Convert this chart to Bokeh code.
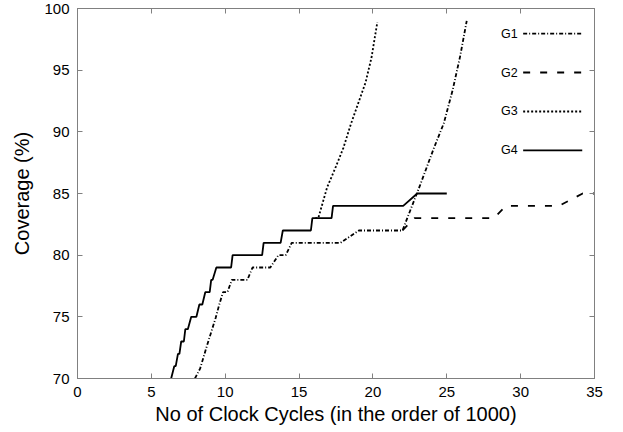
from bokeh.plotting import figure
from bokeh.models import LinearAxis, FixedTicker, Range1d
from bokeh.core.properties import value
from bokeh.embed import file_html
from bokeh.resources import INLINE

# ---- data ----
x_ticks = [0, 5, 10, 15, 20, 25, 30, 35]
y_ticks = [70, 75, 80, 85, 90, 95, 100]
series_names = ["G1", "G2", "G3", "G4"]

g1_x = [7.95, 8.3, 8.8, 9.35, 9.6, 9.85, 10.15, 10.45, 11.5, 11.85, 13.05, 13.6,
        14.1, 14.5, 17.8, 19.05, 22.0, 23.2, 24.1, 24.8, 25.4, 25.9, 26.35]
g1_y = [70, 70.8, 72.8, 74.9, 76, 77, 77, 78, 78, 79, 79, 80,
        80, 81, 81, 82, 82, 85.7, 88.6, 90.7, 93.4, 96.1, 99]

g2_x = [22.0, 22.8, 28.2, 29.0, 32.6, 34.2, 35.0]
g2_y = [82, 83, 83, 84, 84, 85, 85]

g3_x = [16.1, 16.3, 16.9, 17.5, 18.0, 18.5, 19.0, 19.5, 19.9, 20.3]
g3_y = [83, 83, 85.5, 87.2, 88.7, 90.6, 92.3, 94.0, 96.0, 98.9]

g4_x = [6.34, 6.55, 6.65, 6.8, 6.9, 7.02, 7.2, 7.3, 7.47, 7.7, 8.05, 8.25, 8.45,
        8.65, 8.95, 9.05, 9.15, 9.4, 10.4, 10.5, 12.5, 12.6, 13.75, 13.9, 15.8,
        15.9, 17.2, 17.3, 22.05, 23.0, 25.0]
g4_y = [70, 71, 71, 72, 72, 73, 73, 74, 74, 75, 75, 76, 76,
        77, 77, 78, 78, 79, 79, 80, 80, 81, 81, 82, 82,
        83, 83, 84, 84, 85, 85]

# ---- styling ----
FONT = "Liberation Sans"
AX = "#808080"
dashes = {"G1": "4 2 1 2", "G2": "7 10", "G3": "2 2", "G4": "solid"}
series = {"G1": (g1_x, g1_y), "G2": (g2_x, g2_y), "G3": (g3_x, g3_y), "G4": (g4_x, g4_y)}

p = figure(frame_width=517, frame_height=370,
           min_border_left=77, min_border_right=13, min_border_top=8, min_border_bottom=46,
           x_range=Range1d(0, 35), y_range=Range1d(70, 100),
           output_backend="svg", toolbar_location=None)
p.background_fill_color = "white"
p.border_fill_color = "white"
p.outline_line_color = AX
p.grid.grid_line_color = None

for ax in (p.xaxis[0], p.yaxis[0]):
    ax.major_tick_in = 5
    ax.major_tick_out = 0
    ax.minor_tick_in = 0
    ax.minor_tick_out = 0
    ax.axis_line_color = AX
    ax.major_tick_line_color = AX
    ax.major_label_text_font = FONT
    ax.major_label_text_font_size = "15px"
    ax.major_label_text_color = "black"
    ax.axis_label_text_font = FONT
    ax.axis_label_text_font_size = "20px"
    ax.axis_label_text_font_style = "normal"
    ax.axis_label_text_color = "black"

p.xaxis[0].ticker = FixedTicker(ticks=x_ticks)
p.yaxis[0].ticker = FixedTicker(ticks=y_ticks)
p.xaxis[0].axis_label = "No of Clock Cycles (in the order of 1000)"
p.yaxis[0].axis_label = "Coverage (%)"
p.xaxis[0].major_label_standoff = 8
p.xaxis[0].axis_label_standoff = 3
p.yaxis[0].major_label_standoff = 8
p.yaxis[0].axis_label_standoff = 8

top = LinearAxis(ticker=FixedTicker(ticks=x_ticks))
right = LinearAxis(ticker=FixedTicker(ticks=y_ticks))
for ax in (top, right):
    ax.major_tick_in = 5
    ax.major_tick_out = 0
    ax.minor_tick_in = 0
    ax.minor_tick_out = 0
    ax.axis_line_color = AX
    ax.major_tick_line_color = AX
    ax.major_label_text_font_size = "0px"
    ax.major_label_standoff = 0
    ax.major_label_text_alpha = 0
p.add_layout(top, "above")
p.add_layout(right, "right")

for name in ["G2", "G1", "G3", "G4"]:
    xs, ys = series[name]
    p.line(xs, ys, line_color="black", line_width=1.8, line_dash=dashes[name])

# ---- legend (text left of sample line) ----
leg_text_x = 29.8
leg_x0, leg_x1 = 30.17, 34.17
for i, name in enumerate(series_names):
    yy = 97.97 - i * 3.16
    p.line([leg_x0, leg_x1], [yy, yy], line_color="black", line_width=1.8, line_dash=dashes[name])
    p.text(x=[leg_text_x], y=[yy], text=[name], text_font=value(FONT),
           text_font_size="12.5px", text_align="right", text_baseline="middle",
           text_color="black")

open("out.html", "w").write(file_html(p, INLINE))
